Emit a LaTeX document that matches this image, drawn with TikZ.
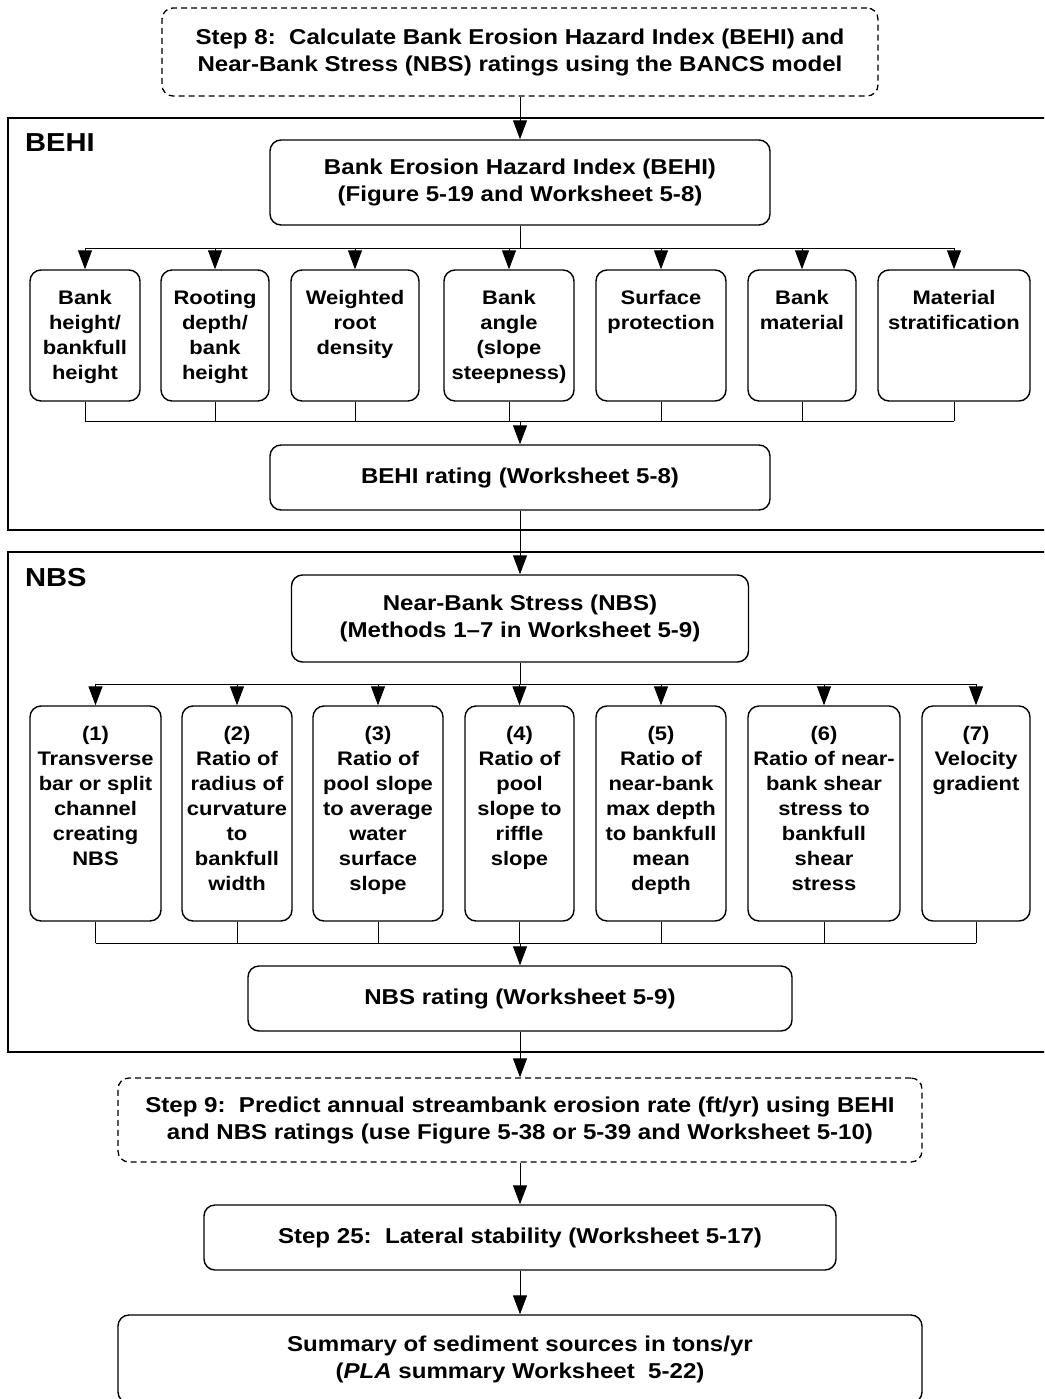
\documentclass[tikz,border=0pt]{standalone}
\usepackage{fontspec}
\setmainfont{Liberation Sans}[FakeStretch=1.12]
\usetikzlibrary{arrows.meta}
\begin{document}
\begin{tikzpicture}[x=1pt,y=-1pt,
  box/.style={draw, line width=1.4pt, rounded corners=11pt, inner sep=0pt},
  dbox/.style={box, dash pattern=on 6pt off 4pt, line width=1.3pt},
  big/.style={font=\fontsize{21.5}{27}\selectfont\bfseries, align=center},
  small/.style={font=\fontsize{19.6}{25}\selectfont\bfseries, align=center, inner sep=0pt, anchor=north},
  frame/.style={draw, line width=1.4pt},
  conn/.style={line width=1pt},
  arr/.style={conn, -{Triangle[length=19pt,width=14pt]}},
  sec/.style={font=\fontsize{26}{30}\selectfont\bfseries, anchor=west, inner sep=0pt}
]
\useasboundingbox (0,0) rectangle (1044,1399);
\clip (0,0) rectangle (1044,1399);

% section frames
\draw[frame] (8,118) rectangle (1070,530);
\draw[frame] (8,552) rectangle (1070,1052);
\node[sec] (lbehi) at (25,143) {BEHI};
\node[sec] (lnbs) at (25,578) {NBS};

% main boxes
\node[dbox, big, minimum width=716pt, minimum height=88pt] (s8) at (520,52)
  {Step 8:\ \ Calculate Bank Erosion Hazard Index (BEHI) and\\Near-Bank Stress (NBS) ratings using the BANCS model};
\node[box, big, minimum width=500pt, minimum height=85pt] (behi) at (520,182.5)
  {Bank Erosion Hazard Index (BEHI)\\(Figure 5-19 and Worksheet 5-8)};
\node[box, big, minimum width=500pt, minimum height=65pt] (behir) at (520,477.5)
  {BEHI rating (Worksheet 5-8)};
\node[box, big, minimum width=457pt, minimum height=87pt] (nbs) at (520,618.5)
  {Near-Bank Stress (NBS)\\(Methods 1--7 in Worksheet 5-9)};
\node[box, big, minimum width=544pt, minimum height=65pt] (nbsr) at (520,998.5)
  {NBS rating (Worksheet 5-9)};
\node[dbox, big, minimum width=804pt, minimum height=84pt] (s9) at (520,1120)
  {Step 9:\ \ Predict annual streambank erosion rate (ft/yr) using BEHI\\and NBS ratings (use Figure 5-38 or 5-39 and Worksheet 5-10)};
\node[box, big, minimum width=632pt, minimum height=65pt] (s25) at (520,1237.5)
  {Step 25:\ \ Lateral stability (Worksheet 5-17)};
\node[box, big, minimum width=804pt, minimum height=88pt] (sum) at (520,1359)
  {Summary of sediment sources in tons/yr\\(\textit{PLA} summary Worksheet\ \ 5-22)};

% BEHI variable boxes
\foreach \n/\x/\w in {b1/85/110, b2/215/108, b3/355/128, b4/509/130, b5/661/130, b6/802/108, b7/954/152}
  \node[box, minimum width=\w pt, minimum height=131pt] (\n) at (\x,335.5) {};
\node[small] (tb1) at ([yshift=-21pt]b1.north) {Bank\\height/\\bankfull\\height};
\node[small] (tb2) at ([yshift=-21pt]b2.north) {Rooting\\depth/\\bank\\height};
\node[small] (tb3) at ([yshift=-21pt]b3.north) {Weighted\\root\\density};
\node[small] (tb4) at ([yshift=-21pt]b4.north) {Bank\\angle\\(slope\\steepness)};
\node[small] (tb5) at ([yshift=-21pt]b5.north) {Surface\\protection};
\node[small] (tb6) at ([yshift=-21pt]b6.north) {Bank\\material};
\node[small] (tb7) at ([yshift=-21pt]b7.north) {Material\\stratification};

% NBS method boxes
\foreach \n/\x/\w in {n1/95.5/131, n2/237/110, n3/378/130, n4/519.5/109, n5/661/130, n6/824/152, n7/976/108}
  \node[box, minimum width=\w pt, minimum height=215pt] (\n) at (\x,813.5) {};
\node[small] (tn1) at ([yshift=-21pt]n1.north) {(1)\\Transverse\\bar or split\\channel\\creating\\NBS};
\node[small] (tn2) at ([yshift=-21pt]n2.north) {(2)\\Ratio of\\radius of\\curvature\\to\\bankfull\\width};
\node[small] (tn3) at ([yshift=-21pt]n3.north) {(3)\\Ratio of\\pool slope\\to average\\water\\surface\\slope};
\node[small] (tn4) at ([yshift=-21pt]n4.north) {(4)\\Ratio of\\pool\\slope to\\riffle\\slope};
\node[small] (tn5) at ([yshift=-21pt]n5.north) {(5)\\Ratio of\\near-bank\\max depth\\to bankfull\\mean\\depth};
\node[small] (tn6) at ([yshift=-21pt]n6.north) {(6)\\Ratio of near-\\bank shear\\stress to\\bankfull\\shear\\stress};
\node[small] (tn7) at ([yshift=-21pt]n7.north) {(7)\\Velocity\\gradient};

% connectors
\coordinate (bd) at (520,248);
\coordinate (bc) at (520,421);
\coordinate (nd) at (520,684);
\coordinate (nc) at (520,943);

\draw[arr] (s8.south) -- (behi.north);
\draw[conn] (behi.south) -- (bd);
\draw[conn] (b1.north |- bd) -- (b7.north |- bd);
\foreach \n in {b1,b2,b3,b4,b5,b6,b7} {
  \draw[arr] (\n.north |- bd) -- (\n.north);
  \draw[conn] (\n.south) -- (\n.south |- bc);
}
\draw[conn] (b1.south |- bc) -- (b7.south |- bc);
\draw[arr] (bc) -- (behir.north);
\draw[arr] (behir.south) -- (nbs.north);

\draw[conn] (nbs.south) -- (nd);
\draw[conn] (n1.north |- nd) -- (n7.north |- nd);
\foreach \n in {n1,n2,n3,n4,n5,n6,n7} {
  \draw[arr] (\n.north |- nd) -- (\n.north);
  \draw[conn] (\n.south) -- (\n.south |- nc);
}
\draw[conn] (n1.south |- nc) -- (n7.south |- nc);
\draw[arr] (nc) -- (nbsr.north);
\draw[arr] (nbsr.south) -- (s9.north);
\draw[arr] (s9.south) -- (s25.north);
\draw[arr] (s25.south) -- (sum.north);
\end{tikzpicture}
\end{document}
